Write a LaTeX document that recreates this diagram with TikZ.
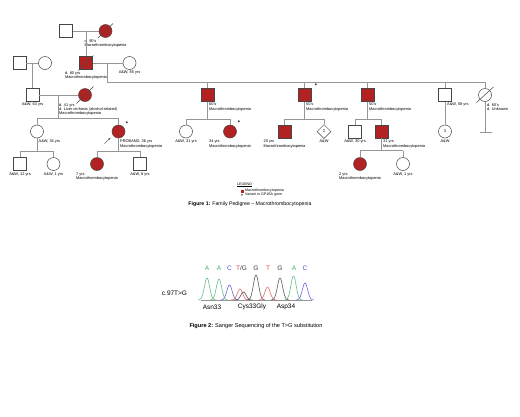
\documentclass[tikz,border=0pt]{standalone}
\usepackage{fontspec}
\setmainfont{Liberation Sans}
\usetikzlibrary{shapes.geometric,arrows.meta,calc}
\definecolor{affc}{RGB}{178,34,34}
\definecolor{symb}{RGB}{70,70,70}
\definecolor{linec}{RGB}{150,150,150}
\definecolor{seqA}{RGB}{76,175,110}
\definecolor{seqC}{RGB}{80,80,220}
\definecolor{seqT}{RGB}{225,70,70}
\definecolor{seqG}{RGB}{60,60,60}
\tikzset{
  sym/.style={draw=symb, line width=0.5pt, inner sep=0pt, minimum size=13pt},
  male/.style={sym, rectangle},
  female/.style={sym, circle},
  unk/.style={sym, diamond, minimum size=14pt},
  aff/.style={fill=affc},
  ln/.style={draw=linec, line width=0.5pt},
  dec/.style={draw=symb, line width=0.5pt},
  txt/.style={font=\fontsize{3.9}{4.3}\selectfont, inner sep=0pt, align=left, text=black},
  lblc/.style={txt, anchor=north},
  lblr/.style={txt, anchor=north west},
  starmark/.style={font=\fontsize{5.5}{5.5}\selectfont\bfseries, inner sep=0pt},
  numtxt/.style={font=\fontsize{4}{4}\selectfont},
  legtxt/.style={font=\fontsize{3.6}{4}\selectfont, inner sep=0pt, anchor=west},
  captxt/.style={font=\fontsize{5.2}{6}\selectfont, inner sep=0pt},
  seqtxt/.style={font=\fontsize{6.5}{7}\selectfont, inner sep=0pt},
}
\begin{document}
\begin{tikzpicture}[x=1pt,y=-1pt]
\useasboundingbox[fill=white] (0,0) rectangle (520,416);

% ---------- Generation I ----------
\node[male] (i1) at (66,31) {};
\node[female,aff] (i2) at (105.5,31) {};
\draw[ln] (i1) -- (i2);
\draw[dec] ($(i2)+(-7.5,7)$) -- ($(i2)+(7.5,-7.5)$);
\node[lblc] (ti2) at (105.5,39) {d. 90's\\Macrothrombocytopenia};
\coordinate (m1) at (86,31);

% ---------- Generation II ----------
\node[male] (ii1) at (19.5,63) {};
\node[female] (ii2) at (45,63) {};
\draw[ln] (ii1) -- (ii2);
\coordinate (m2) at (32.5,63);
\node[male,aff] (ii3) at (86,63) {};
\draw[dec] ($(ii3)+(-7.5,7.5)$) -- ($(ii3)+(7.5,-7.5)$);
\node[lblc] (tii3) at (86,71) {d. 80 yrs\\Macrothrombocytopenia};
\node[female] (ii4) at (129.5,63) {};
\node[lblc] (tii4) at (129.5,71) {A\&W, 85 yrs};
\draw[ln] (ii3) -- (ii4);
\draw[ln] (m1) -- (ii3);
\coordinate (m3) at (107,63);
\coordinate (s3) at (107,82);
\coordinate (s3e) at (485,82);
\draw[ln] (m3) -- (s3) -- (s3e);

% ---------- Generation III ----------
\node[male] (iii1) at (32.5,95) {};
\node[lblc] (tiii1) at (32.5,103) {A\&W, 63 yrs};
\draw[ln] (m2) -- (iii1);
\node[female,aff] (iii2) at (85,95) {};
\draw[dec] ($(iii2)+(-8.5,8.5)$) -- ($(iii2)+(8.5,-8.5)$);
\node[lblr] (tiii2) at (59,103) {d. 41 yrs\\d. Liver cirrhosis (alcohol-related)\\Macrothrombocytopenia};
\draw[ln] (iii1) -- (iii2);
\coordinate (m4) at (58,95);
\coordinate (s4) at (58,118);

\node[male,aff] (iii3) at (207.5,95) {};
\node[lblr] (tiii3) at (209,103) {60's\\Macrothrombocytopenia};
\node[male,aff] (iii4) at (304.5,95) {};
\node[starmark] (st1) at (316,86) {*};
\node[lblr] (tiii4) at (306,103) {50's\\Macrothrombocytopenia};
\node[male,aff] (iii5) at (367.5,95) {};
\node[lblr] (tiii5) at (369,103) {50's\\Macrothrombocytopenia};
\node[male] (iii6) at (445,95) {};
\node[lblr] (tiii6) at (447,103) {A\&W, 58 yrs};
\node[female] (iii7) at (485,95) {};
\draw[dec] ($(iii7)+(-8.5,7.5)$) -- ($(iii7)+(8.5,-8)$);
\node[lblr] (tiii7) at (487,103) {d. 60's\\d. Unknown};
\foreach \n in {iii3,iii4,iii5,iii6,iii7} \draw[ln] (\n |- s3) -- (\n);
\coordinate (nt) at (485,132);
\coordinate (ntl) at (479.5,132);
\coordinate (ntr) at (491.5,132);
\draw[ln] (iii7) -- (nt);
\draw[ln] (ntl) -- (ntr);

% ---------- Generation IV ----------
\node[female] (iv1) at (37,131.5) {};
\node[lblr] (tiv1) at (38.5,140) {A\&W, 34 yrs};
\node[female,aff] (iv2) at (118.5,131.5) {};
\node[starmark] (st2) at (127,124) {*};
\coordinate (arS) at (104.5,143.5);
\coordinate (arE) at (110.5,137.8);
\draw[symb, line width=0.4pt, -{Stealth[length=2.2pt,width=1.8pt]}] (arS) -- (arE);
\node[lblr] (tiv2) at (120,140) {PROBAND, 36 yrs\\Macrothrombocytopenia};
\coordinate (s4l) at (37,118);
\coordinate (s4r) at (118.5,118);
\draw[ln] (m4) -- (s4);
\draw[ln] (s4l) -- (s4r);
\draw[ln] (s4l) -- (iv1);
\draw[ln] (s4r) -- (iv2);

\node[female] (iv3) at (186,131.5) {};
\node[lblc] (tiv3) at (186,140) {A\&W, 31 yrs};
\node[female,aff] (iv4) at (230,131.5) {};
\node[starmark] (st3) at (239,123) {*};
\node[lblc] (tiv4) at (230,140) {34 yrs\\Macrothrombocytopenia};
\coordinate (s5) at (207.5,119);
\coordinate (s5l) at (186,119);
\coordinate (s5r) at (230,119);
\draw[ln] (iii3) -- (s5);
\draw[ln] (s5l) -- (s5r);
\draw[ln] (s5l) -- (iv3);
\draw[ln] (s5r) -- (iv4);

\node[male,aff] (iv5) at (284.5,131.5) {};
\node[lblc] (tiv5) at (284.5,140) {20 yrs\\Macrothrombocytopenia};
\node[unk] (iv6) at (324,131.5) {};
\node[numtxt] (niv6) at (iv6) {2};
\node[lblc] (tiv6) at (324,140) {A\&W};
\coordinate (s6) at (304.5,119);
\coordinate (s6l) at (284.5,119);
\coordinate (s6r) at (324,119);
\draw[ln] (iii4) -- (s6);
\draw[ln] (s6l) -- (s6r);
\draw[ln] (s6l) -- (iv5);
\draw[ln] (s6r) -- (iv6);

\node[male] (iv7) at (355,131.5) {};
\node[lblc] (tiv7) at (355,140) {A\&W, 30 yrs};
\node[male,aff] (iv8) at (381.5,131.5) {};
\node[lblr] (tiv8) at (383,140) {31 yrs\\Macrothrombocytopenia};
\coordinate (s7) at (367.5,119);
\coordinate (s7l) at (355,119);
\coordinate (s7r) at (381.5,119);
\draw[ln] (iii5) -- (s7);
\draw[ln] (s7l) -- (s7r);
\draw[ln] (s7l) -- (iv7);
\draw[ln] (s7r) -- (iv8);

\node[female] (iv9) at (445,131.5) {};
\node[numtxt] (niv9) at (iv9) {3};
\node[lblc] (tiv9) at (445,140) {A\&W};
\draw[ln] (iii6) -- (iv9);

% ---------- Generation V ----------
\node[male] (v1) at (20,164) {};
\node[lblc] (tv1) at (20,172.5) {A\&W, 12 yrs};
\node[female] (v2) at (53.5,164) {};
\node[lblc] (tv2) at (53.5,172.5) {A\&W, 1 yrs};
\coordinate (s8) at (37,151);
\coordinate (s8l) at (20,151);
\coordinate (s8r) at (53.5,151);
\draw[ln] (iv1) -- (s8);
\draw[ln] (s8l) -- (s8r);
\draw[ln] (s8l) -- (v1);
\draw[ln] (s8r) -- (v2);

\node[female,aff] (v5) at (97,164) {};
\node[lblc] (tv5) at (97,172.5) {7 yrs\\Macrothrombocytopenia};
\node[male] (v6) at (140,164) {};
\node[lblc] (tv6) at (140,172.5) {A\&W, 8 yrs};
\coordinate (s9) at (118.5,151);
\coordinate (s9l) at (97,151);
\coordinate (s9r) at (140,151);
\draw[ln] (iv2) -- (s9);
\draw[ln] (s9l) -- (s9r);
\draw[ln] (s9l) -- (v5);
\draw[ln] (s9r) -- (v6);

\node[female,aff] (v3) at (360,164) {};
\node[lblc] (tv3) at (360,172.5) {2 yrs\\Macrothrombocytopenia};
\node[female] (v4) at (403,164) {};
\node[lblc] (tv4) at (403,172.5) {A\&W, 1 yrs};
\coordinate (s10) at (381.5,150.5);
\coordinate (s10l) at (360,150.5);
\coordinate (s10r) at (403,150.5);
\draw[ln] (iv8) -- (s10);
\draw[ln] (s10l) -- (s10r);
\draw[ln] (s10l) -- (v3);
\draw[ln] (s10r) -- (v4);

% ---------- Legend ----------
\node[font=\fontsize{3.6}{4}\selectfont, inner sep=0pt] (leg) at (244.5,185) {\underline{LEGEND}};
\node[fill=affc, inner sep=0pt, minimum size=3pt] (lk1) at (242,191) {};
\node[legtxt] (lt1) at (245,191) {Macrothrombocytopenia};
\node[starmark, font=\fontsize{4.5}{4.5}\selectfont\bfseries] (lk2) at (242,195.5) {*};
\node[legtxt] (lt2) at (245,195) {Variant in GP1BA gene};
\node[captxt] (cap1) at (250,204) {\textbf{Figure 1:} Family Pedigree – Macrothrombocytopenia};

% ---------- Sanger sequencing ----------
\node[seqtxt, text=seqA] (b1) at (207,268) {A};
\node[seqtxt, text=seqA] (b2) at (219,268) {A};
\node[seqtxt, text=seqC] (b3) at (229.5,268) {C};
\node[seqtxt] (b4) at (241.5,268) {\textcolor{seqT}{T}\textcolor{seqG}{/G}};
\node[seqtxt, text=seqG] (b5) at (256,268) {G};
\node[seqtxt, text=seqT] (b6) at (268,268) {T};
\node[seqtxt, text=seqG] (b7) at (280,268) {G};
\node[seqtxt, text=seqA] (b8) at (294,268) {A};
\node[seqtxt, text=seqC] (b9) at (305,268) {C};
\node[seqtxt] (mut) at (174.5,293) {c.97T>G};
\draw[linec, line width=0.4pt] (201,300) -- (312,300);
\foreach \c/\h/\col in {207/22/seqA, 219/21/seqA, 229.5/15/seqC, 240/11/seqT, 243.5/8/seqG, 256/25/seqG, 267.5/13/seqT, 280/22/seqG, 293.5/24/seqA, 305/17/seqC}
  \draw[\col!85, line width=0.6pt] plot[domain=\c-9:\c+9, samples=40, smooth] (\x,{300-\h*exp(-((\x-\c)/3.7)^2)});
\node[seqtxt] (p1) at (212,307) {Asn33};
\node[seqtxt] (p2) at (252,307) {Cys33Gly};
\node[seqtxt] (p3) at (286,307) {Asp34};
\node[captxt, font=\fontsize{5.6}{6.5}\selectfont] (cap2) at (256,326) {\textbf{Figure 2:} Sanger Sequencing of the T>G substitution};
\end{tikzpicture}
\end{document}
